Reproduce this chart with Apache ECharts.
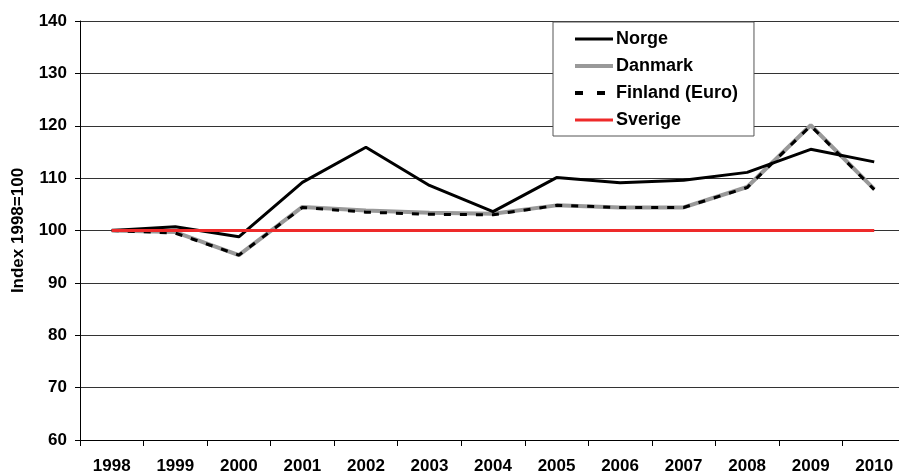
<!DOCTYPE html>
<html>
<head>
<meta charset="utf-8">
<script src="https://cdn.jsdelivr.net/npm/echarts@6/dist/echarts.min.js"></script>
<style>
html,body{margin:0;padding:0;background:#fff;overflow:hidden;}
#chart{width:907px;height:475px;}
</style>
</head>
<body>
<div id="chart"></div>
<script>
var years = ['1998','1999','2000','2001','2002','2003','2004','2005','2006','2007','2008','2009','2010'];
var norge = [100, 100.7, 98.8, 109.2, 115.9, 108.6, 103.6, 110.1, 109.1, 109.6, 111.1, 115.5, 113.1];
var danmark = [100, 99.7, 95.3, 104.5, 103.8, 103.4, 103.2, 104.8, 104.4, 104.4, 108.3, 120.1, 107.9];
var finland = [100, 99.5, 95.3, 104.4, 103.5, 103.1, 103.0, 104.8, 104.4, 104.4, 108.2, 120.0, 107.8];
var sverige = [100, 100, 100, 100, 100, 100, 100, 100, 100, 100, 100, 100, 100];

var font = 'Liberation Sans, Arial, sans-serif';

var option = {
	animation: false,
	grid: {left: 80, top: 21, height: 419, width: 826},
	legend: {
		orient: 'vertical',
		left: 553,
		top: 22,
		padding: [8, 16, 7, 20],
		itemWidth: 38,
		itemHeight: 14,
		itemGap: 9,
		backgroundColor: '#fff',
		borderColor: '#555',
		borderWidth: 1,
		itemStyle: {opacity: 0},
		textStyle: {fontFamily: font, fontWeight: 'bold', fontSize: 18, color: '#000', padding: [0, 0, 0, -2]},
		data: [
			{name: 'Norge', lineStyle: {width: 3}},
			{name: 'Danmark', lineStyle: {width: 4}},
			{name: 'Finland (Euro)', lineStyle: {width: 4, type: [8, 14]}},
			{name: 'Sverige', lineStyle: {width: 3}}
		]
	},
	xAxis: {
		type: 'category',
		data: years,
		boundaryGap: true,
		axisLine: {lineStyle: {color: '#000', width: 1}},
		axisTick: {show: true, length: 6, lineStyle: {color: '#000'}},
		axisLabel: {fontFamily: font, fontWeight: 'bold', fontSize: 17, color: '#000', margin: 18}
	},
	yAxis: {
		type: 'value',
		min: 60,
		max: 140,
		interval: 10,
		name: 'Index 1998=100',
		nameLocation: 'middle',
		nameGap: 53,
		nameTextStyle: {fontFamily: font, fontWeight: 'bold', fontSize: 17, color: '#000'},
		axisLine: {show: true, lineStyle: {color: '#000', width: 1}},
		axisTick: {show: true, length: 5, lineStyle: {color: '#000'}},
		splitLine: {lineStyle: {color: '#333', width: 1}},
		axisLabel: {fontFamily: font, fontWeight: 'bold', fontSize: 17, color: '#000', margin: 13}
	},
	series: [
		{name: 'Norge', type: 'line', data: norge, symbol: 'none', z: 4,
			lineStyle: {color: '#000', width: 3}, itemStyle: {color: '#000'}},
		{name: 'Danmark', type: 'line', data: danmark, symbol: 'none', z: 2,
			lineStyle: {color: '#999', width: 4}, itemStyle: {color: '#999'}},
		{name: 'Finland (Euro)', type: 'line', data: finland, symbol: 'none', z: 3,
			lineStyle: {color: '#000', width: 3, type: [7, 9]}, itemStyle: {color: '#000'}},
		{name: 'Sverige', type: 'line', data: sverige, symbol: 'none', z: 5,
			lineStyle: {color: '#ee2a2a', width: 3}, itemStyle: {color: '#ee2a2a'}}
	]
};

var myChart = echarts.init(document.getElementById('chart'));
myChart.setOption(option);
</script>
</body>
</html>
